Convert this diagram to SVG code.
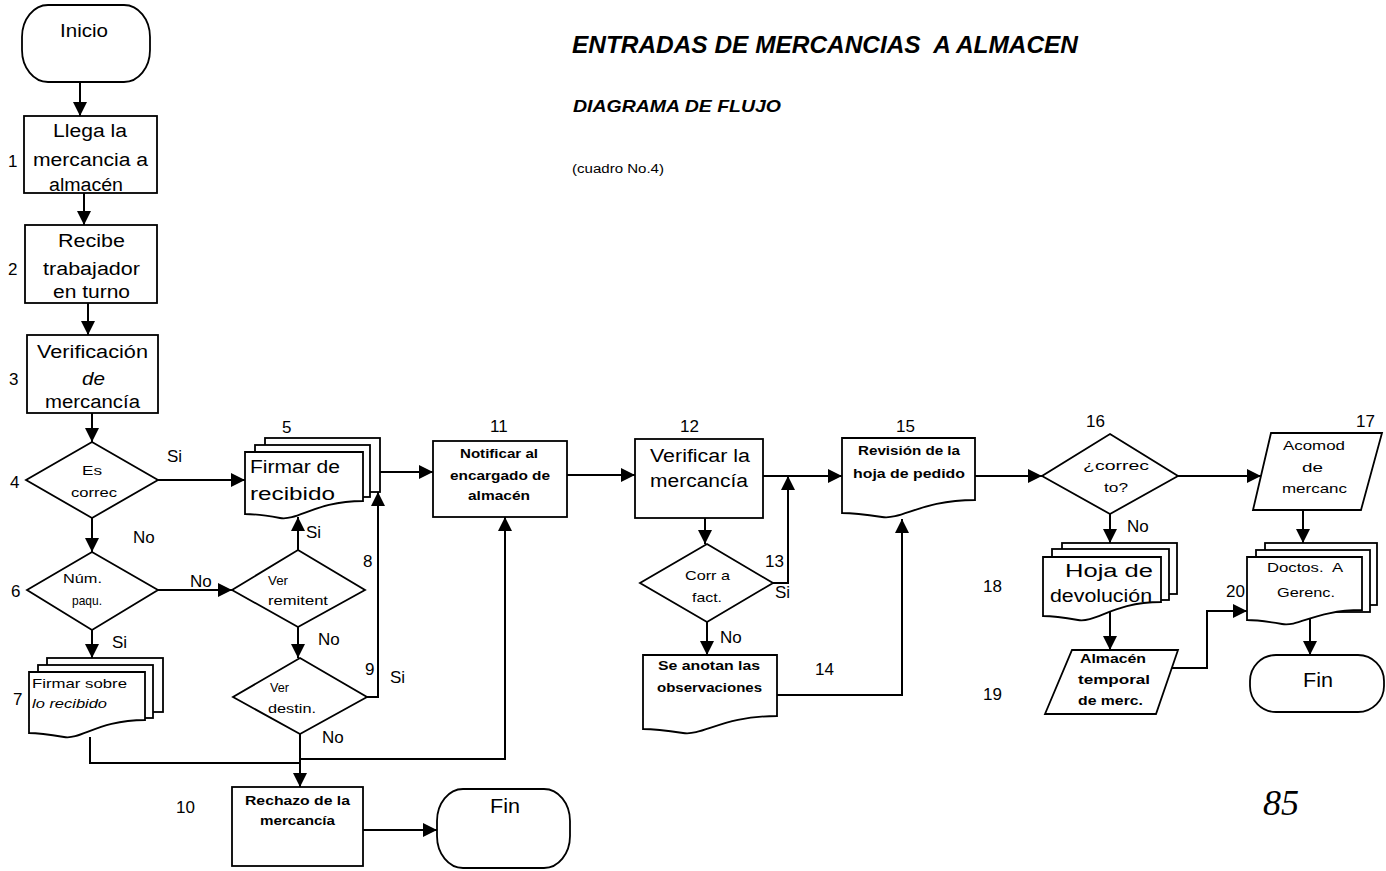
<svg xmlns="http://www.w3.org/2000/svg" width="1386" height="871" viewBox="0 0 1386 871">
<defs>
<style>
.n{fill:#fff;stroke:#000;stroke-width:1.8}
.c{fill:none;stroke:#000;stroke-width:2}
.a{marker-end:url(#arr)}
text{font-family:"Liberation Sans",Arial,sans-serif;fill:#000}
.big{font-size:18px}
.sm{font-size:13px}
.lb{font-size:17px}
.b{font-weight:bold}
.i{font-style:italic}
</style>
<marker id="arr" markerUnits="userSpaceOnUse" markerWidth="14" markerHeight="14" refX="14" refY="7" orient="auto">
<path d="M0,0 L14,7 L0,14 Z" fill="#000"/>
</marker>
</defs>
<rect width="1386" height="871" fill="#fff"/>

<g id="title">
<text x="572" y="53" font-size="24" class="b i" textLength="506" lengthAdjust="spacingAndGlyphs" style="white-space:pre">ENTRADAS DE MERCANCIAS  A ALMACEN</text>
<text x="573" y="112" font-size="17" class="b i" textLength="208" lengthAdjust="spacingAndGlyphs">DIAGRAMA DE FLUJO</text>
<text x="572" y="173" font-size="12" textLength="92" lengthAdjust="spacingAndGlyphs">(cuadro No.4)</text>
</g>

<g id="connectors">
<path class="c a" d="M80,82 V116"/>
<path class="c a" d="M84,193 V225"/>
<path class="c a" d="M88,303 V335"/>
<path class="c a" d="M92,413 V442"/>
<path class="c a" d="M158,480 H245"/>
<path class="c a" d="M92,518 V552"/>
<path class="c a" d="M158,590 H232"/>
<path class="c a" d="M92,630 V658"/>
<path class="c a" d="M298,550 V517"/>
<path class="c a" d="M298,627 V658"/>
<path class="c a" d="M367,697 H378 V492"/>
<path class="c a" d="M300,734 V787"/>
<path class="c" d="M90,737 V763 H300"/>
<path class="c a" d="M300,759 H505 V517"/>
<path class="c a" d="M380,472 H433"/>
<path class="c a" d="M567,475 H635"/>
<path class="c a" d="M763,476 H842"/>
<path class="c a" d="M705,518 V544"/>
<path class="c a" d="M773,583 H788 V476"/>
<path class="c a" d="M707,622 V655"/>
<path class="c a" d="M777,695 H902 V519"/>
<path class="c a" d="M975,476 H1042"/>
<path class="c a" d="M1178,476 H1261"/>
<path class="c a" d="M1110,514 V543"/>
<path class="c a" d="M1110,606 V650"/>
<path class="c a" d="M1172,668 H1207 V611 H1247"/>
<path class="c a" d="M1303,510 V543"/>
<path class="c a" d="M1310,612 V655"/>
<path class="c a" d="M363,830 H437"/>
</g>

<g id="inicio">
<rect class="n" x="22" y="5" width="128" height="77" rx="26" ry="32"/>
<text x="60" y="37" font-size="19" textLength="48" lengthAdjust="spacingAndGlyphs">Inicio</text>
</g>

<g id="n1">
<rect class="n" x="24" y="116" width="133" height="77"/>
<text class="big" x="53" y="137" textLength="74" lengthAdjust="spacingAndGlyphs">Llega la</text>
<text class="big" x="33" y="166" textLength="115" lengthAdjust="spacingAndGlyphs">mercancia a</text>
<text class="big" x="49" y="191" textLength="74" lengthAdjust="spacingAndGlyphs">almacén</text>
<text class="lb" x="8" y="167">1</text>
</g>

<g id="n2">
<rect class="n" x="25" y="225" width="132" height="78"/>
<text class="big" x="58" y="247" textLength="67" lengthAdjust="spacingAndGlyphs">Recibe</text>
<text class="big" x="43" y="275" textLength="97" lengthAdjust="spacingAndGlyphs">trabajador</text>
<text class="big" x="53" y="298" textLength="77" lengthAdjust="spacingAndGlyphs">en turno</text>
<text class="lb" x="8" y="275">2</text>
</g>

<g id="n3">
<rect class="n" x="27" y="335" width="131" height="78"/>
<text class="big" x="37" y="358" textLength="111" lengthAdjust="spacingAndGlyphs">Verificación</text>
<text class="big i" x="82" y="385" textLength="23" lengthAdjust="spacingAndGlyphs">de</text>
<text class="big" x="45" y="408" textLength="95" lengthAdjust="spacingAndGlyphs">mercancía</text>
<text class="lb" x="9" y="385">3</text>
</g>

<g id="n4">
<polygon class="n" points="92,442 158,480 92,518 26,480"/>
<text class="sm" x="82" y="475" textLength="20" lengthAdjust="spacingAndGlyphs">Es</text>
<text class="sm" x="71" y="497" textLength="46" lengthAdjust="spacingAndGlyphs">correc</text>
<text class="lb" x="10" y="488">4</text>
<text class="lb" x="167" y="462">Si</text>
<text class="lb" x="133" y="543">No</text>
</g>

<g id="n5">
<rect class="n" x="265" y="438" width="115" height="54"/>
<rect class="n" x="255" y="445" width="115" height="52"/>
<path class="n" d="M245,452 H363 V501 C316,501 298,521 280,518 C263,515 251,514 245,514 Z"/>
<text class="big" x="250" y="473" textLength="90" lengthAdjust="spacingAndGlyphs">Firmar de</text>
<text class="big" x="250" y="500" textLength="85" lengthAdjust="spacingAndGlyphs">recibido</text>
<text class="lb" x="282" y="433">5</text>
</g>

<g id="n6">
<polygon class="n" points="92,552 158,590 92,630 27,590"/>
<text class="sm" x="63" y="583" textLength="39" lengthAdjust="spacingAndGlyphs">Núm.</text>
<text class="sm" x="72" y="605" textLength="30" lengthAdjust="spacingAndGlyphs">paqu.</text>
<text class="lb" x="11" y="597">6</text>
<text class="lb" x="190" y="587">No</text>
<text class="lb" x="112" y="648">Si</text>
</g>

<g id="n7">
<rect class="n" x="47" y="658" width="116" height="54"/>
<rect class="n" x="38" y="665" width="115" height="53"/>
<path class="n" d="M29,672 H145 V720 C99,720 81,740 64,737 C46,734 35,733 29,733 Z"/>
<text class="sm" x="32" y="688" textLength="95" lengthAdjust="spacingAndGlyphs">Firmar sobre</text>
<text class="sm i" x="32" y="708" textLength="75" lengthAdjust="spacingAndGlyphs">lo recibido</text>
<text class="lb" x="13" y="705">7</text>
</g>

<g id="n8">
<polygon class="n" points="298,550 365,590 298,627 232,590"/>
<text class="sm" x="268" y="585" textLength="20" lengthAdjust="spacingAndGlyphs">Ver</text>
<text class="sm" x="268" y="605" textLength="60" lengthAdjust="spacingAndGlyphs">remitent</text>
<text class="lb" x="363" y="567">8</text>
<text class="lb" x="306" y="538">Si</text>
<text class="lb" x="318" y="645">No</text>
</g>

<g id="n9">
<polygon class="n" points="300,658 367,697 300,734 233,697"/>
<text class="sm" x="270" y="692" textLength="19" lengthAdjust="spacingAndGlyphs">Ver</text>
<text class="sm" x="268" y="713" textLength="48" lengthAdjust="spacingAndGlyphs">destin.</text>
<text class="lb" x="365" y="675">9</text>
<text class="lb" x="390" y="683">Si</text>
<text class="lb" x="322" y="743">No</text>
</g>

<g id="n10">
<rect class="n" x="232" y="787" width="131" height="79"/>
<text class="sm b" x="245" y="805" textLength="105" lengthAdjust="spacingAndGlyphs">Rechazo de la</text>
<text class="sm b" x="260" y="825" textLength="75" lengthAdjust="spacingAndGlyphs">mercancía</text>
<text class="lb" x="176" y="813">10</text>
</g>

<g id="fin1">
<rect class="n" x="437" y="789" width="133" height="79" rx="26" ry="32"/>
<text x="490" y="813" font-size="20" textLength="30" lengthAdjust="spacingAndGlyphs">Fin</text>
</g>

<g id="n11">
<rect class="n" x="433" y="441" width="134" height="76"/>
<text class="sm b" x="460" y="458" textLength="78" lengthAdjust="spacingAndGlyphs">Notificar al</text>
<text class="sm b" x="450" y="480" textLength="100" lengthAdjust="spacingAndGlyphs">encargado de</text>
<text class="sm b" x="468" y="500" textLength="62" lengthAdjust="spacingAndGlyphs">almacén</text>
<text class="lb" x="490" y="432">11</text>
</g>

<g id="n12">
<rect class="n" x="635" y="439" width="128" height="79"/>
<text class="big" x="650" y="462" textLength="100" lengthAdjust="spacingAndGlyphs">Verificar la</text>
<text class="big" x="650" y="487" textLength="98" lengthAdjust="spacingAndGlyphs">mercancía</text>
<text class="lb" x="680" y="432">12</text>
</g>

<g id="n13">
<polygon class="n" points="707,544 773,583 707,622 640,583"/>
<text class="sm" x="685" y="580" textLength="45" lengthAdjust="spacingAndGlyphs">Corr a</text>
<text class="sm" x="692" y="602" textLength="30" lengthAdjust="spacingAndGlyphs">fact.</text>
<text class="lb" x="765" y="567">13</text>
<text class="lb" x="775" y="598">Si</text>
<text class="lb" x="720" y="643">No</text>
</g>

<g id="n14">
<path class="n" d="M643,655 H777 V716 C723,716 703,736 683,733 C663,730 650,729 643,729 Z"/>
<text class="sm b" x="658" y="670" textLength="102" lengthAdjust="spacingAndGlyphs">Se anotan las</text>
<text class="sm b" x="657" y="692" textLength="105" lengthAdjust="spacingAndGlyphs">observaciones</text>
<text class="lb" x="815" y="675">14</text>
</g>

<g id="n15">
<path class="n" d="M842,438 H975 V500 C922,500 902,520 882,517 C862,514 849,513 842,513 Z"/>
<text class="sm b" x="858" y="455" textLength="102" lengthAdjust="spacingAndGlyphs">Revisión de la</text>
<text class="sm b" x="853" y="478" textLength="112" lengthAdjust="spacingAndGlyphs">hoja de pedido</text>
<text class="lb" x="896" y="432">15</text>
</g>

<g id="n16">
<polygon class="n" points="1110,434 1178,476 1110,514 1042,476"/>
<text class="sm" x="1083" y="470" textLength="66" lengthAdjust="spacingAndGlyphs">¿correc</text>
<text class="sm" x="1104" y="492" textLength="24" lengthAdjust="spacingAndGlyphs">to?</text>
<text class="lb" x="1086" y="427">16</text>
<text class="lb" x="1127" y="532">No</text>
</g>

<g id="n17">
<polygon class="n" points="1271,433 1382,433 1361,510 1253,510"/>
<text class="sm" x="1283" y="450" textLength="62" lengthAdjust="spacingAndGlyphs">Acomod</text>
<text class="sm" x="1302" y="472" textLength="21" lengthAdjust="spacingAndGlyphs">de</text>
<text class="sm" x="1282" y="493" textLength="65" lengthAdjust="spacingAndGlyphs">mercanc</text>
<text class="lb" x="1356" y="427">17</text>
</g>

<g id="n18">
<rect class="n" x="1062" y="543" width="115" height="51"/>
<rect class="n" x="1052" y="549" width="117" height="51"/>
<path class="n" d="M1043,557 H1161 V602 C1114,602 1096,623 1078,620 C1061,617 1049,616 1043,616 Z"/>
<text class="big" x="1065" y="577" textLength="88" lengthAdjust="spacingAndGlyphs">Hoja de</text>
<text class="big" x="1050" y="602" textLength="102" lengthAdjust="spacingAndGlyphs">devolución</text>
<text class="lb" x="983" y="592">18</text>
</g>

<g id="n19">
<polygon class="n" points="1072,650 1178,650 1156,714 1045,714"/>
<text class="sm b" x="1080" y="663" textLength="66" lengthAdjust="spacingAndGlyphs">Almacén</text>
<text class="sm b" x="1078" y="684" textLength="72" lengthAdjust="spacingAndGlyphs">temporal</text>
<text class="sm b" x="1078" y="705" textLength="65" lengthAdjust="spacingAndGlyphs">de merc.</text>
<text class="lb" x="983" y="700">19</text>
</g>

<g id="n20">
<rect class="n" x="1265" y="543" width="112" height="62"/>
<rect class="n" x="1256" y="550" width="114" height="62"/>
<path class="n" d="M1247,557 H1362 V610 C1316,610 1299,627 1282,624 C1264,621 1253,620 1247,620 Z"/>
<text class="sm" x="1267" y="572" textLength="76" lengthAdjust="spacingAndGlyphs" style="white-space:pre">Doctos.  A</text>
<text class="sm" x="1277" y="597" textLength="58" lengthAdjust="spacingAndGlyphs">Gerenc.</text>
<text class="lb" x="1226" y="597">20</text>
</g>

<g id="fin2">
<rect class="n" x="1250" y="655" width="134" height="57" rx="26" ry="26"/>
<text x="1303" y="687" font-size="20" textLength="30" lengthAdjust="spacingAndGlyphs">Fin</text>
</g>

<text x="1263" y="815" font-style="italic" font-size="36" style="font-family:'Liberation Serif',serif">85</text>
</svg>
